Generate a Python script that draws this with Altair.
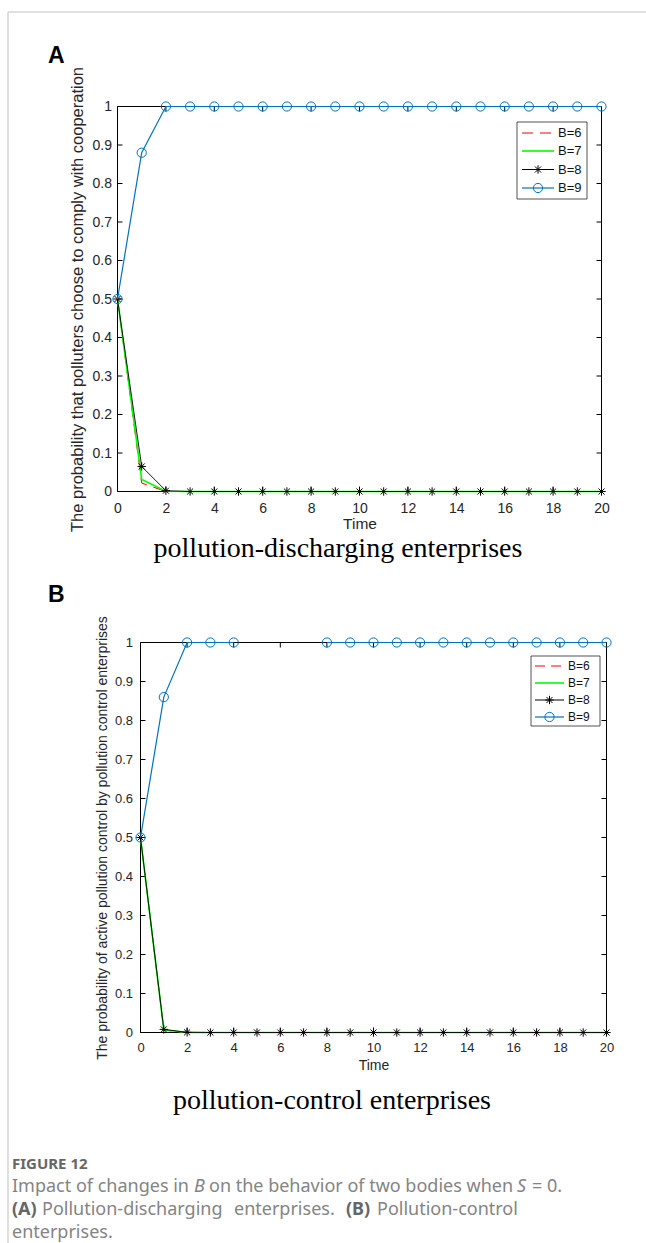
import altair as alt
import pandas as pd

# ---- data ---------------------------------------------------------------
time = list(range(21))
series_names = ["B=6", "B=7", "B=8", "B=9"]

# (A) pollution-discharging enterprises: probability of complying with cooperation
a_b6 = [0.5, 0.022, 0.0, 0.0, 0.0, 0.0, 0.0, 0.0, 0.0, 0.0, 0.0,
        0.0, 0.0, 0.0, 0.0, 0.0, 0.0, 0.0, 0.0, 0.0, 0.0]
a_b7 = [0.5, 0.031, 0.0005, 0.0, 0.0, 0.0, 0.0, 0.0, 0.0, 0.0, 0.0,
        0.0, 0.0, 0.0, 0.0, 0.0, 0.0, 0.0, 0.0, 0.0, 0.0]
a_b8 = [0.5, 0.065, 0.002, 0.0, 0.0, 0.0, 0.0, 0.0, 0.0, 0.0, 0.0,
        0.0, 0.0, 0.0, 0.0, 0.0, 0.0, 0.0, 0.0, 0.0, 0.0]
a_b9 = [0.5, 0.88, 1.0, 1.0, 1.0, 1.0, 1.0, 1.0, 1.0, 1.0, 1.0,
        1.0, 1.0, 1.0, 1.0, 1.0, 1.0, 1.0, 1.0, 1.0, 1.0]

# (B) pollution-control enterprises: probability of active pollution control
b_b6 = [0.5, 0.006, 0.0, 0.0, 0.0, 0.0, 0.0, 0.0, 0.0, 0.0, 0.0,
        0.0, 0.0, 0.0, 0.0, 0.0, 0.0, 0.0, 0.0, 0.0, 0.0]
b_b7 = [0.5, 0.007, 0.0002, 0.0, 0.0, 0.0, 0.0, 0.0, 0.0, 0.0, 0.0,
        0.0, 0.0, 0.0, 0.0, 0.0, 0.0, 0.0, 0.0, 0.0, 0.0]
b_b8 = [0.5, 0.008, 0.0004, 0.0, 0.0, 0.0, 0.0, 0.0, 0.0, 0.0, 0.0,
        0.0, 0.0, 0.0, 0.0, 0.0, 0.0, 0.0, 0.0, 0.0, 0.0]
b_b9 = [0.5, 0.86, 1.0, 1.0, 1.0, None, None, None, 1.0, 1.0, 1.0,
        1.0, 1.0, 1.0, 1.0, 1.0, 1.0, 1.0, 1.0, 1.0, 1.0]

x_ticks = [0, 2, 4, 6, 8, 10, 12, 14, 16, 18, 20]
y_ticks = [0, 0.1, 0.2, 0.3, 0.4, 0.5, 0.6, 0.7, 0.8, 0.9, 1]

# ---- styling --------------------------------------------------------------
W, H = 646, 1243
RED, GREEN, BLACK, BLUE = "#ff0000", "#00ff00", "#000000", "#0072bd"
AXIS_INK = "#262626"
SANS = "Liberation Sans"
STAR = "M-1,0L1,0M0,-1L0,1M-0.72,-0.72L0.72,0.72M-0.72,0.72L0.72,-0.72"


def long_table(columns):
    rows = []
    for name, values in zip(series_names, columns):
        seg = 0
        for t, v in zip(time, values):
            if v is None:
                seg += 1
                continue
            rows.append({"t": t, "p": v, "series": name, "seg": seg})
    return pd.DataFrame(rows)


one_row = pd.DataFrame({"k": [0]})


def text_layer(text, x, y, size, font=SANS, color="#000000", weight="normal",
               style="normal", align="left", baseline="middle", angle=0):
    return alt.Chart(one_row).mark_text(
        text=text, font=font, fontSize=size, color=color, fontWeight=weight,
        fontStyle=style, align=align, baseline=baseline, angle=angle,
    ).encode(x=alt.value(x), y=alt.value(y))


def panel(columns, g, ytitle, sizes, legend, heading, letter):
    df = long_table(columns)
    xs = alt.Scale(domain=[0, 20], range=[g["left"], g["right"]], nice=False, zero=False)
    ys = alt.Scale(domain=[0, 1], range=[g["bottom"], g["top"]], nice=False, zero=False)
    xaxis = alt.Axis(
        values=x_ticks, title="Time", orient="bottom", offset=g["bottom"] - H,
        domain=False, ticks=False, grid=False, labelFlush=False, labelOverlap=False,
        labelFont=SANS, labelFontSize=sizes["tick"], labelColor=AXIS_INK,
        labelPadding=sizes["xpad"], titleFont=SANS, titleFontSize=sizes["label"],
        titleFontWeight="normal", titleColor=AXIS_INK, titlePadding=sizes["xtpad"],
    )
    yaxis = alt.Axis(
        values=y_ticks, title=ytitle, orient="left", offset=-g["left"], format="~g",
        domain=False, ticks=False, grid=False, labelFlush=False, labelOverlap=False,
        labelFont=SANS, labelFontSize=sizes["tick"], labelColor=AXIS_INK,
        labelPadding=sizes["ypad"], titleFont=SANS, titleFontSize=sizes["ytitle"],
        titleFontWeight="normal", titleColor=AXIS_INK,
        titleX=sizes["ytitle_x"] - g["left"], titleBaseline="middle",
    )
    X = alt.X("t:Q", scale=xs, axis=xaxis)
    Y = alt.Y("p:Q", scale=ys, axis=yaxis)

    frame = alt.Chart(one_row).mark_rect(fillOpacity=0, stroke=BLACK, strokeWidth=1).encode(
        x=alt.value(g["left"]), x2=alt.value(g["right"]),
        y=alt.value(g["top"]), y2=alt.value(g["bottom"]),
    )
    xt = pd.DataFrame({"t": x_ticks})
    yt = pd.DataFrame({"p": y_ticks})
    tick = dict(stroke=BLACK, strokeWidth=1)
    ticks = [
        alt.Chart(xt).mark_rule(**tick).encode(x=X, y=alt.value(g["bottom"]), y2=alt.value(g["bottom"] - 5)),
        alt.Chart(xt).mark_rule(**tick).encode(x=X, y=alt.value(g["top"]), y2=alt.value(g["top"] + 5)),
        alt.Chart(yt).mark_rule(**tick).encode(y=Y, x=alt.value(g["left"]), x2=alt.value(g["left"] + 5)),
        alt.Chart(yt).mark_rule(**tick).encode(y=Y, x=alt.value(g["right"]), x2=alt.value(g["right"] - 5)),
    ]

    def sub(name):
        return alt.Chart(df).transform_filter(alt.datum.series == name)

    red = sub("B=6").mark_line(color=RED, strokeWidth=1, strokeDash=legend["dash"]).encode(x=X, y=Y)
    green = sub("B=7").mark_line(color=GREEN, strokeWidth=1.6).encode(x=X, y=Y)
    black = sub("B=8").mark_line(color=BLACK, strokeWidth=0.9).encode(x=X, y=Y)
    stars = sub("B=8").mark_point(shape=STAR, size=70, color=BLACK, strokeWidth=1, filled=False, opacity=1).encode(x=X, y=Y)
    blue = sub("B=9").mark_line(color=BLUE, strokeWidth=1.2).encode(x=X, y=Y, detail="seg:N")
    circles = sub("B=9").mark_point(shape="circle", size=85, color=BLUE, strokeWidth=1, filled=False, opacity=1).encode(x=X, y=Y)

    # legend box in the upper-right corner
    lg = legend
    box = alt.Chart(one_row).mark_rect(fill="white", stroke=AXIS_INK, strokeWidth=0.8).encode(
        x=alt.value(lg["x0"]), x2=alt.value(lg["x1"]), y=alt.value(lg["y0"]), y2=alt.value(lg["y1"]),
    )
    entries = []
    styles = [
        dict(color=RED, strokeWidth=1, strokeDash=lg["dash"]),
        dict(color=GREEN, strokeWidth=1.6),
        dict(color=BLACK, strokeWidth=1),
        dict(color=BLUE, strokeWidth=1.2),
    ]
    for i, name in enumerate(series_names):
        yy = lg["rows"][i]
        entries.append(alt.Chart(one_row).mark_rule(**styles[i]).encode(
            x=alt.value(lg["lx0"]), x2=alt.value(lg["lx1"]), y=alt.value(yy)))
        if name == "B=8":
            entries.append(alt.Chart(one_row).mark_point(shape=STAR, size=70, color=BLACK, strokeWidth=1, filled=False, opacity=1).encode(
                x=alt.value((lg["lx0"] + lg["lx1"]) / 2), y=alt.value(yy)))
        if name == "B=9":
            entries.append(alt.Chart(one_row).mark_point(shape="circle", size=85, color=BLUE, strokeWidth=1, filled=False, opacity=1).encode(
                x=alt.value((lg["lx0"] + lg["lx1"]) / 2), y=alt.value(yy)))
        entries.append(text_layer(name, lg["tx"], yy, lg["size"], color="#111111"))

    head = text_layer(heading["text"], heading["x"], heading["y"], 28,
                      font="Liberation Serif", align="center")
    tag = text_layer(letter["text"], letter["x"], letter["y"], 23, weight="bold",
                     baseline="alphabetic")

    return alt.layer(frame, *ticks, red, green, black, stars, blue, circles, box, *entries, head, tag)


panel_a = panel(
    [a_b6, a_b7, a_b8, a_b9],
    dict(left=117.5, right=601.5, top=106.5, bottom=491.5),
    "The probability that polluters choose to comply with cooperation",
    dict(tick=14, label=15.5, ytitle=16.5, ytitle_x=77, xpad=10, ypad=6, xtpad=1),
    dict(x0=517, x1=587, y0=122, y1=199, rows=[133, 151, 169.5, 188], lx0=522, lx1=554,
         tx=558, size=13, dash=[11, 7]),
    dict(text="pollution-discharging enterprises", x=338, y=549),
    dict(text="A", x=48, y=63),
)

panel_b = panel(
    [b_b6, b_b7, b_b8, b_b9],
    dict(left=140.5, right=606.5, top=642.5, bottom=1032.5),
    "The probability of active pollution control by pollution control enterprises",
    dict(tick=13, label=14, ytitle=14, ytitle_x=102, xpad=9, ypad=8, xtpad=4),
    dict(x0=531, x1=600, y0=656, y1=726, rows=[666, 683, 700, 717], lx0=535, lx1=564,
         tx=568, size=12, dash=[10, 6]),
    dict(text="pollution-control enterprises", x=332, y=1101),
    dict(text="B", x=48, y=602),
)

# ---- page frame and figure caption ---------------------------------------
border = [
    alt.Chart(one_row).mark_rule(color="#d6d6d6", strokeWidth=1.5).encode(
        x=alt.value(8), x2=alt.value(W), y=alt.value(12)),
    alt.Chart(one_row).mark_rule(color="#d6d6d6", strokeWidth=1.5).encode(
        x=alt.value(8), y=alt.value(12), y2=alt.value(H)),
]
CAP = "Noto Sans"
CAP_INK = "#848484"
CAP_BOLD = "#666666"
CS = 18
caption = [
    text_layer("FIGURE 12", 12, 1164, 15, font=CAP, color=CAP_BOLD, weight="bold"),
    text_layer("Impact of changes in", 12, 1187, CS, font=CAP, color=CAP_INK),
    text_layer("B", 194, 1187, CS, font=CAP, color=CAP_INK, style="italic"),
    text_layer("on the behavior of two bodies when", 209, 1187, CS, font=CAP, color=CAP_INK),
    text_layer("S", 517, 1187, CS, font=CAP, color=CAP_INK, style="italic"),
    text_layer("= 0.", 532, 1187, CS, font=CAP, color=CAP_INK),
    text_layer("(A)", 12, 1210, CS, font=CAP, color=CAP_BOLD, weight="bold"),
    text_layer("Pollution-discharging", 42, 1210, CS, font=CAP, color=CAP_INK),
    text_layer("enterprises.", 234, 1210, CS, font=CAP, color=CAP_INK),
    text_layer("(B)", 346, 1210, CS, font=CAP, color=CAP_BOLD, weight="bold"),
    text_layer("Pollution-control", 377, 1210, CS, font=CAP, color=CAP_INK),
    text_layer("enterprises.", 12, 1233, CS, font=CAP, color=CAP_INK),
]

chart = (
    alt.layer(*border, panel_a, panel_b, *caption)
    .resolve_scale(x="independent", y="independent")
    .properties(width=W, height=H, padding=0, background="white",
                autosize=alt.AutoSizeParams(type="none"))
    .configure_view(stroke=None)
)

chart.save("out.html", embed_options={"renderer": "svg", "actions": False})
